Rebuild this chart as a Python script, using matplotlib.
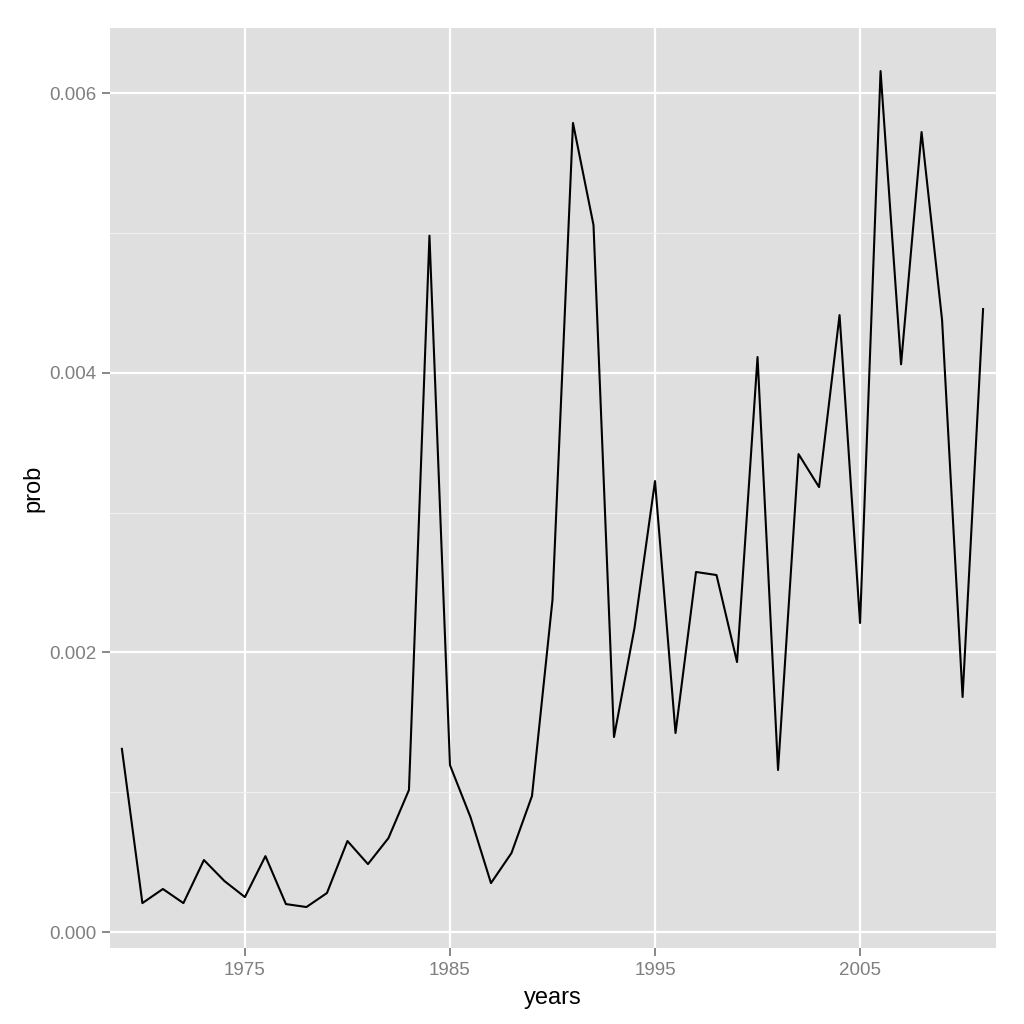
import matplotlib
matplotlib.use("Agg")
import matplotlib.pyplot as plt
from matplotlib.ticker import FixedLocator, FuncFormatter

years = list(range(1969, 2012))
prob = [0.00131, 0.000207, 0.000308, 0.000207, 0.000515, 0.000365, 0.00025,
        0.000543, 0.0002, 0.000179, 0.000279, 0.000651, 0.000486, 0.000672,
        0.001016, 0.00498, 0.001194, 0.000822, 0.00035, 0.000565, 0.000973,
        0.002375, 0.005786, 0.005056, 0.001395, 0.002175, 0.003225, 0.001423,
        0.002575, 0.002553, 0.001931, 0.004112, 0.001159, 0.003418, 0.003182,
        0.004412, 0.00221, 0.006157, 0.00406, 0.005721, 0.004377, 0.001681,
        0.004455]
x_ticks = [1975, 1985, 1995, 2005]
y_ticks = [0.000, 0.002, 0.004, 0.006]
y_minor = [0.001, 0.003, 0.005]

plt.rcParams['font.family'] = ['Liberation Sans', 'DejaVu Sans']
fig = plt.figure(figsize=(10.24, 10.24), dpi=100)
ax = fig.add_axes([110/1024, 1 - 948/1024, (996-110)/1024, (948-28)/1024])
ax.set_facecolor('#DFDFDF')
for s in ax.spines.values():
    s.set_visible(False)

ax.plot(years, prob, color='black', lw=1.5, zorder=3)

ax.set_xlim(1968.42, 2011.63)
ax.set_ylim(-0.000114, 0.006465)
ax.xaxis.set_major_locator(FixedLocator(x_ticks))
ax.yaxis.set_major_locator(FixedLocator(y_ticks))
ax.yaxis.set_minor_locator(FixedLocator(y_minor))
ax.yaxis.set_major_formatter(FuncFormatter(lambda v, p: f"{v:.3f}"))
ax.grid(which='major', color='white', lw=1.6, zorder=1)
ax.grid(which='minor', axis='y', color='#F0F0F0', lw=0.8, zorder=0.5)
ax.set_axisbelow(True)
ax.tick_params(axis='both', which='major', colors='#7F7F7F', labelcolor='#7F7F7F',
               length=6, width=1.3, labelsize=13.5, pad=4)
ax.tick_params(axis='y', which='minor', length=0)

ax.set_xlabel('years', fontsize=17, color='black', labelpad=6)
ax.set_ylabel('prob', fontsize=17, color='black', labelpad=3)

fig.savefig('out.png', dpi=100, facecolor='white')
